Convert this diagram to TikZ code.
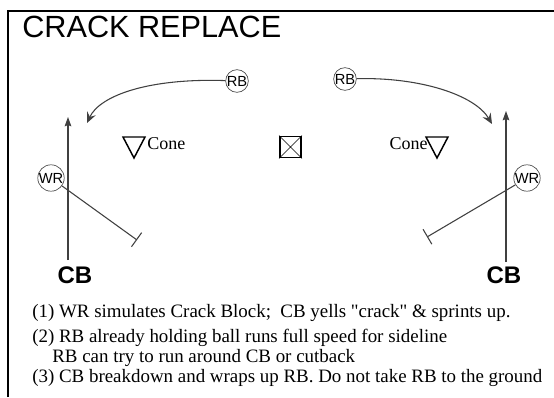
\documentclass[tikz,border=0pt]{standalone}
\usepackage{fontspec}
\setmainfont{Liberation Serif}[Ligatures=TeXOff]
\setsansfont{Liberation Sans}
\usetikzlibrary{arrows.meta}
\begin{document}
\begin{tikzpicture}[x=0.75pt,y=-0.75pt,
  route/.style={draw=black!75, line width=0.8pt},
  player/.style={circle, draw=black!70, line width=0.5pt, inner sep=0pt, minimum size=17pt, font=\sffamily\fontsize{11}{11}\selectfont},
  cbtext/.style={font=\sffamily\bfseries\fontsize{18}{18}\selectfont, inner sep=0pt},
  conetext/.style={font=\fontsize{13.5}{14}\selectfont, inner sep=0pt, anchor=base west},
  note/.style={font=\fontsize{14.2}{15}\selectfont, inner sep=0pt, anchor=base west},
  curvetip/.style={-{Stealth[length=8pt,width=7pt,inset=3pt]}},
  uptip/.style={-{Stealth[length=7pt,width=5pt,inset=1pt]}},
  blocktip/.style={-{Bar[width=13pt,line width=0.8pt]}}
]
\useasboundingbox (0,0) rectangle (554,397);
\fill[white] (0,0) rectangle (554,397);
% frame
\draw[line width=1.1pt] (8,397) -- (8,11) -- (554,11);
% title
\node[font=\sffamily\fontsize{23}{24}\selectfont, inner sep=0pt, anchor=base west] (title) at (22,37) {CRACK REPLACE};
% players
\node[player] (rbL) at (237,81) {RB};
\node[player] (rbR) at (345,79) {RB};
\node[player] (wrL) at (51,178) {WR};
\node[player] (wrR) at (527,178) {WR};
\node[cbtext] (cbL) at (75,275) {CB};
\node[cbtext] (cbR) at (504,275) {CB};
% coordinates
\coordinate (tipL) at (87,123);
\coordinate (tipR) at (492,124);
\coordinate (upLs) at (68,260);
\coordinate (upLe) at (68,117);
\coordinate (upRs) at (506,262);
\coordinate (upRe) at (506,111);
\coordinate (blkL) at (137,240);
\coordinate (blkR) at (427,237);
% RB routes
\draw[route, curvetip] (rbL) .. controls (150,78) and (100,95) .. (tipL);
\draw[route, curvetip] (rbR) .. controls (420,77) and (475,95) .. (tipR);
% CB sprints
\draw[route, uptip] (upLs) -- (upLe);
\draw[route, uptip] (upRs) -- (upRe);
% crack blocks
\draw[route, blocktip] (wrL) -- (blkL);
\draw[route, blocktip] (wrR) -- (blkR);
% cones
\draw[line width=1.1pt, line join=miter] (123,137) -- (145,137) -- (134,158) -- cycle;
\node[conetext] (coneL) at (147,149) {Cone};
\draw[line width=1.1pt, line join=miter] (426,137) -- (448,137) -- (437,158) -- cycle;
\node[conetext, anchor=base east] (coneR) at (428,149) {Cone};
% ball box
\node[draw, line width=1.2pt, minimum size=16pt, inner sep=0pt] (ball) at (290.5,147) {};
\draw[line width=0.5pt] (ball.north west) -- (ball.south east) (ball.north east) -- (ball.south west);
% notes
\node[note] (n1) at (32,317) {(1) WR simulates Crack Block;\ \ CB yells "crack" \& sprints up.};
\node[note] (n2) at (32,342) {(2) RB already holding ball runs full speed for sideline};
\node[note] (n3) at (52,362) {RB can try to run around CB or cutback};
\node[note] (n4) at (32,382) {(3) CB breakdown and wraps up RB. Do not take RB to the ground};
\end{tikzpicture}
\end{document}
